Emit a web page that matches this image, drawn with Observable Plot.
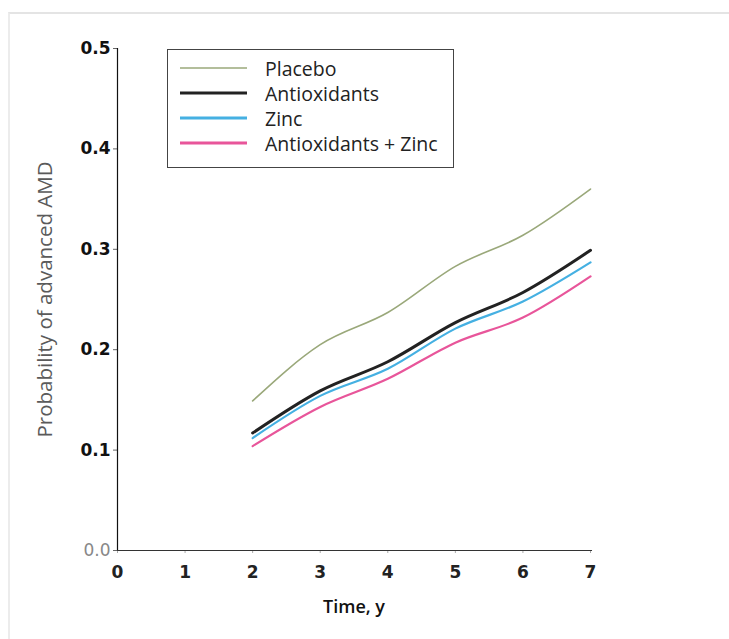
<!DOCTYPE html>
<html>
<head>
<meta charset="utf-8">
<script src="https://cdn.jsdelivr.net/npm/d3@7"></script>
<script src="https://cdn.jsdelivr.net/npm/@observablehq/plot@0.6"></script>
<style>
  html, body { margin: 0; padding: 0; background: #fff; }
  #wrap { position: relative; width: 729px; height: 639px; overflow: hidden; }
  #frame { position: absolute; left: 8px; top: 12px; width: 740px; height: 700px;
           border-top: 2px solid #e4e4e4; border-left: 2px solid #ececec; box-sizing: border-box; }
  #chart { position: absolute; left: 0; top: 0; }
  #chart svg { font-family: "Open Sans", sans-serif; }
  #chart g[aria-label="y-axis tick label"] text { font-family: "DejaVu Sans", sans-serif; font-weight: 700; fill: #111; font-size: 17px; }
  #chart g[aria-label="y-axis tick label"] text:first-child { font-weight: 400; fill: #888; }
  #chart g[aria-label="x-axis tick label"] text { font-family: "DejaVu Sans", sans-serif; font-weight: 700; fill: #222; font-size: 17px; }
  #chart g[aria-label="x-axis label"] text { font-weight: 600; fill: #111; font-size: 18px; }
  #chart g[aria-label="y-axis label"] text { font-weight: 400; fill: #5a5a5a; font-size: 20.5px; }
  #legend { position: absolute; left: 167px; top: 49px; width: 287px; height: 119px;
            border: 1px solid #444; box-sizing: border-box; background: #fff;
            font-family: "Open Sans", sans-serif; font-size: 19.5px; color: #222; }
  #legend .row { position: absolute; left: 0; height: 24px; display: flex; align-items: center; }
  #legend .sw { width: 67px; margin-left: 12px; margin-right: 18px; }
</style>
</head>
<body>
<div id="wrap">
  <div id="frame"></div>
  <div id="chart"></div>
  <div id="legend"></div>
</div>
<script>
const years = [2, 3, 4, 5, 6, 7];
const seriesNames = ["Placebo", "Antioxidants", "Zinc", "Antioxidants + Zinc"];
const placebo      = [0.149, 0.205, 0.237, 0.283, 0.314, 0.360];
const antioxidants = [0.117, 0.159, 0.188, 0.227, 0.257, 0.299];
const zinc         = [0.112, 0.154, 0.181, 0.221, 0.248, 0.287];
const antioxZinc   = [0.104, 0.143, 0.171, 0.207, 0.232, 0.273];
const xTicks = [0, 1, 2, 3, 4, 5, 6, 7];
const yTicks = [0, 0.1, 0.2, 0.3, 0.4, 0.5];

const colors = ["#9aa87a", "#222222", "#45b0e2", "#e8559a"];
const widths = [1.6, 3, 2.2, 2.2];
const legendWidths = [1.6, 3, 3, 3];
const valuesBySeries = [placebo, antioxidants, zinc, antioxZinc];

const rows = [];
seriesNames.forEach((name, i) => {
  years.forEach((t, j) => rows.push({ series: name, t, p: valuesBySeries[i][j] }));
});

const lineMarks = seriesNames.map((name, i) =>
  Plot.line(rows.filter(d => d.series === name), {
    x: "t", y: "p", stroke: colors[i], strokeWidth: widths[i], curve: "monotone-x"
  })
);

const chart = Plot.plot({
  width: 729,
  height: 639,
  marginLeft: 117,
  marginRight: 139,
  marginTop: 48,
  marginBottom: 89,
  x: { domain: [0, 7] },
  y: { domain: [0, 0.5] },
  marks: [
    Plot.axisX({ ticks: xTicks, tickSize: 3, tickPadding: 12, stroke: "#aaa",
                 label: "Time, y", labelAnchor: "center", labelArrow: false, labelOffset: 62,
                 tickFormat: d => String(d) }),
    Plot.axisY({ ticks: yTicks, tickSize: 4, tickPadding: 3, stroke: "#666",
                 tickFormat: d => d.toFixed(1),
                 label: "Probability of advanced AMD", labelAnchor: "center", labelArrow: false, labelOffset: 80 }),
    Plot.ruleX([0], { stroke: "#111", strokeWidth: 1.2 }),
    Plot.ruleY([0], { stroke: "#333", strokeWidth: 1.2, x1: 0, x2: 7.03 }),
    ...lineMarks
  ]
});
document.getElementById("chart").appendChild(chart);

const legend = document.getElementById("legend");
seriesNames.forEach((name, i) => {
  const row = document.createElement("div");
  row.className = "row";
  row.style.top = (6 + i * 25) + "px";
  row.innerHTML = `<svg class="sw" width="67" height="6"><line x1="0" x2="67" y1="3" y2="3" stroke="${colors[i]}" stroke-width="${legendWidths[i]}"/></svg><span>${name}</span>`;
  legend.appendChild(row);
});
</script>
</body>
</html>
